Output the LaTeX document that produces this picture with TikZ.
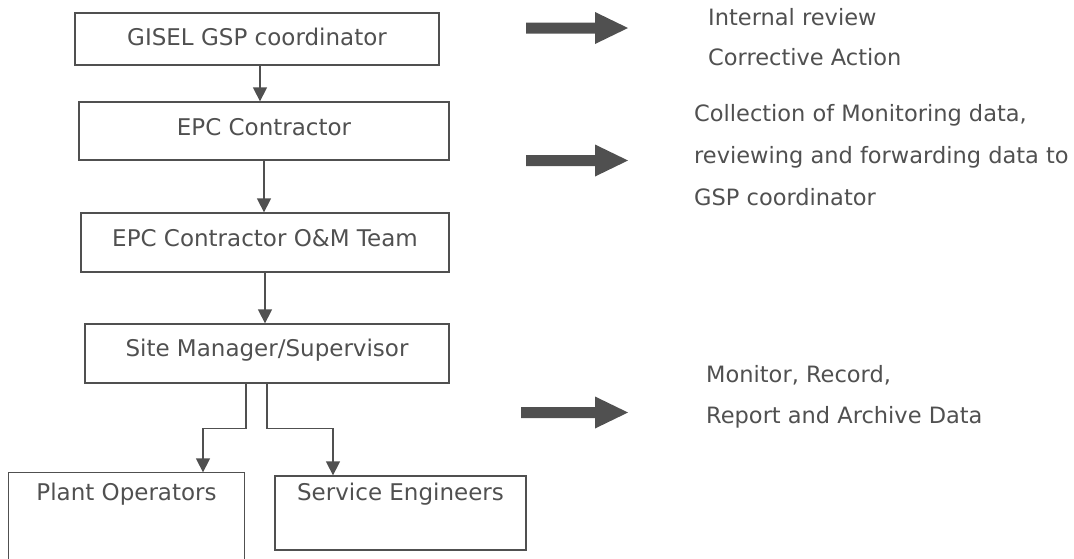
\documentclass[tikz,border=0pt]{standalone}
\usepackage{fontspec}
\setmainfont{DejaVu Sans}
\usepackage{xcolor}
\usetikzlibrary{arrows.meta}
\definecolor{inkgray}{HTML}{505050}
% thick block arrow: tail x, centre y, length
\newcommand{\fatarrow}[3]{\fill[inkgray] (#1,#2) ++(0,-5.5) -- ++({#3-33},0) -- ++(0,-10.5) -- ++(33,16) -- ++(-33,16) -- ++(0,-10.5) -- ++({33-#3},0) -- cycle;}

\tikzset{
	box/.style={draw=inkgray, line width=1.3pt, inner sep=0pt, text height=17pt, text=inkgray, font=\fontsize{23}{27}\selectfont},
	note/.style={anchor=base west, inner sep=0pt, align=left, text=inkgray},
	flow/.style={draw=inkgray, line width=1.3pt, -{Triangle[width=14pt,length=14pt]}}
}

\begin{document}
\begin{tikzpicture}[x=1pt, y=-1pt]
	\useasboundingbox (0,0) rectangle (1074,558);
	%\draw[step=50, black!20] (0,0) grid (1074,558);
	\node[box, minimum width=364, minimum height=52, text depth=4.2pt] (gisel) at (257,39) {GISEL GSP coordinator};
	\node[box, minimum width=370, minimum height=58, text depth=8.2pt] (epc) at (264,131) {EPC Contractor};
	\node[box, minimum width=368, minimum height=59, text depth=9.2pt] (om) at (265,242.5) {EPC Contractor O\&M Team};
	\node[box, minimum width=364, minimum height=59, text depth=11.2pt] (site) at (267,353.5) {Site Manager/Supervisor};
	\node[box, draw=none, minimum width=235, minimum height=85, text depth=47.2pt] (plant) at (126.5,515.5) {Plant Operators};
	\draw[inkgray, line width=1.3pt] (plant.south west) |- (plant.north east) -- (plant.south east);
	\node[box, minimum width=251, minimum height=74, text depth=42.2pt] (service) at (400.5,513) {Service Engineers};
	% connectors
	\draw[flow] ([xshift=3]gisel.south) -- ([xshift=3]gisel.south |- epc.north);
	\draw[flow] (epc.south) -- (epc.south |- om.north);
	\draw[flow] (om.south) -- (om.south |- site.north);
	\draw[flow] ([xshift=-21]site.south) -- ++(0,45) -| ([xshift=76.5]plant.north);
	\draw[flow] (site.south) -- ++(0,45) -| ([xshift=-67.5]service.north);
	% right column
	\fatarrow{526}{28}{102}
	\fatarrow{526}{160.5}{102}
	\fatarrow{521}{412.5}{107}
	\node[note, font=\fontsize{22.5}{40}\selectfont] (review) at (708,65) {Internal review\\Corrective Action};
	\node[note, font=\fontsize{22.5}{42}\selectfont] (collect) at (694,205) {Collection of Monitoring data,\\reviewing and forwarding data to\\GSP coordinator};
	\node[note, font=\fontsize{22.5}{41}\selectfont] (monitor) at (706,423) {Monitor, Record,\\Report and Archive Data};
\end{tikzpicture}
\end{document}
